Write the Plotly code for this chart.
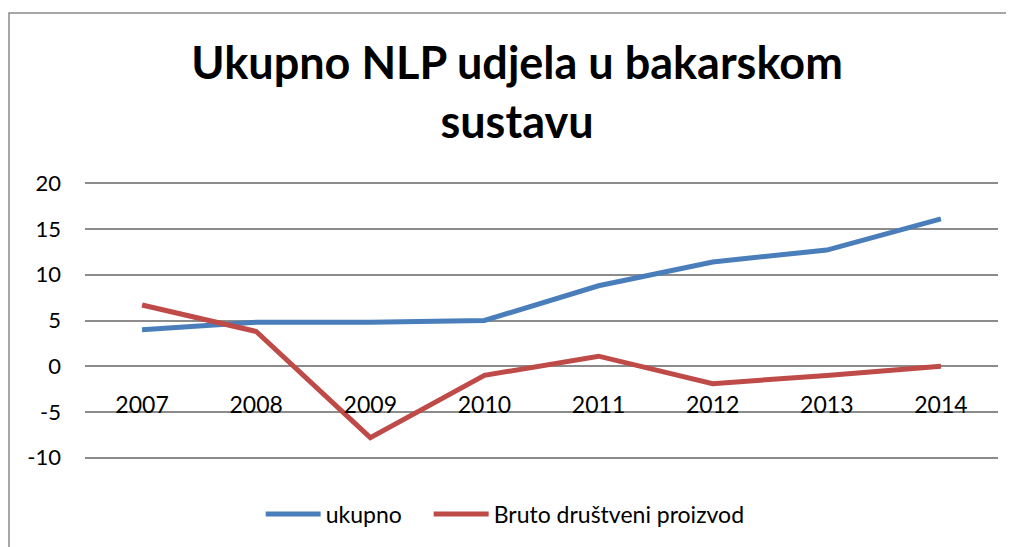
import plotly.graph_objects as go

# podaci
godine = ['2007', '2008', '2009', '2010', '2011', '2012', '2013', '2014']
ukupno = [4.0, 4.8, 4.8, 5.0, 8.8, 11.4, 12.7, 16.1]
bdp = [6.7, 3.8, -7.8, -1.0, 1.1, -1.9, -1.0, 0.0]
y_vrijednosti = [-10, -5, 0, 5, 10, 15, 20]
y_oznake = ['-10', '-5', '0', '5', '10', '15', '20']

fnt = "Lato"

fig = go.Figure()
fig.add_trace(go.Scatter(name='ukupno', x=godine, y=ukupno, mode='lines',
                         line=dict(color='#4A7EBB', width=5), legend='legend'))
fig.add_trace(go.Scatter(name='Bruto društveni proizvod', x=godine, y=bdp, mode='lines',
                         line=dict(color='#BE4B48', width=5), legend='legend2'))

leg = dict(orientation='h', y=-0.1935, yanchor='middle', xanchor='left',
           font=dict(size=23), itemwidth=55, bgcolor='rgba(0,0,0,0)')

# stranica ima 8px margine body-a, pa je sve pomaknuto
fig.update_layout(
    width=1014, height=547,
    margin=dict(l=77, r=24, t=173, b=95),
    paper_bgcolor='white', plot_bgcolor='white',
    font=dict(family=fnt, color='black', size=22),
    title=dict(text='<b>Ukupno NLP udjela u bakarskom<br>sustavu</b>',
               x=0.502, xanchor='center', y=1 - 71 / 547, yanchor='middle',
               yref='container', font=dict(family=fnt, size=45, color='black')),
    showlegend=True,
    legend=dict(leg, x=0.1924),
    legend2=dict(leg, x=0.3764),
)

fig.update_xaxes(type='category', range=[-0.5, 7.5], showgrid=False, showline=False,
                 zeroline=False, anchor='free', position=10.25 / 30.5,
                 ticks='outside', ticklen=18, tickcolor='rgba(0,0,0,0)',
                 tickfont=dict(size=23))
fig.update_yaxes(range=[-10.25, 20.25], tickvals=y_vrijednosti, ticktext=y_oznake,
                 showgrid=True, gridcolor='#8c8c8c',
                 gridwidth=1.5, zeroline=False, showline=False,
                 ticklabelstandoff=23, tickfont=dict(size=22))

# okvir grafikona
fig.add_shape(type='rect', xref='paper', yref='paper',
              x0=(1 - 77) / 913, x1=1.2, y0=-0.5, y1=(452 - 5) / 279,
              line=dict(color='#8a8a8a', width=1.5), layer='below')

fig.write_html("out.html")
